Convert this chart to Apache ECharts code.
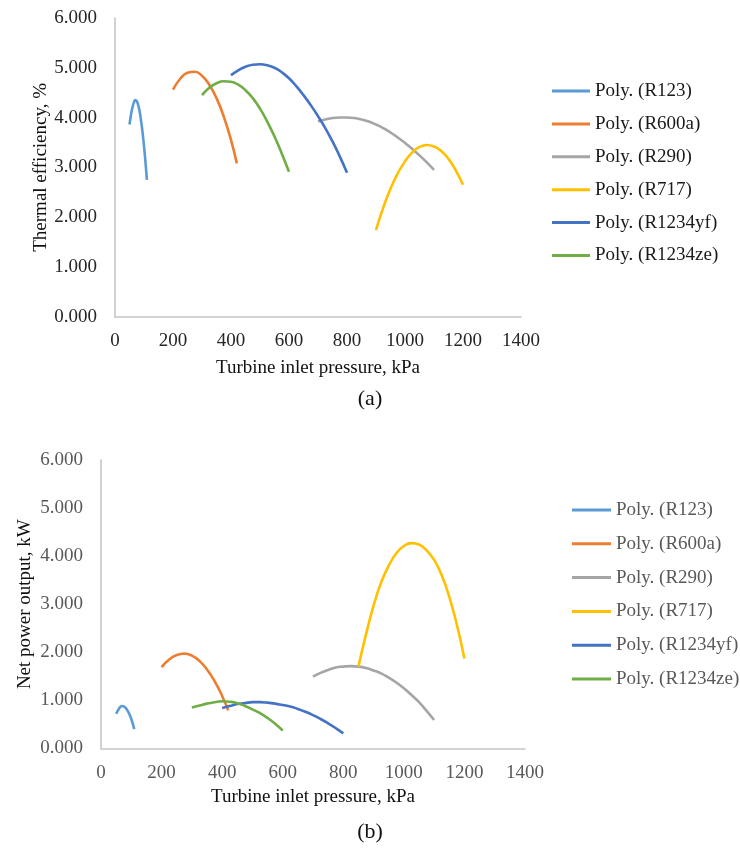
<!DOCTYPE html>
<html>
<head>
<meta charset="utf-8">
<script src="https://cdn.jsdelivr.net/npm/echarts@6/dist/echarts.min.js"></script>
<style>
html,body{margin:0;padding:0;background:#fff;}
#chart{width:740px;height:850px;}
</style>
</head>
<body>
<div id="chart"></div>
<script>
// Series names / legend labels
const seriesNames = ['Poly. (R123)', 'Poly. (R600a)', 'Poly. (R290)', 'Poly. (R717)', 'Poly. (R1234yf)', 'Poly. (R1234ze)'];
const xTicks = [0, 200, 400, 600, 800, 1000, 1200, 1400];
const yTicks = [0, 1, 2, 3, 4, 5, 6];

// (a) Thermal efficiency, %
const xR123_a = [50, 55, 60, 65, 70, 75, 80, 85, 90, 95, 100, 105, 110];
const yR123_a = [3.86, 4.05, 4.20, 4.30, 4.35, 4.33, 4.25, 4.12, 3.93, 3.70, 3.43, 3.11, 2.75];
const xR600a_a = [200, 225, 250, 275, 300, 325, 350, 375, 400, 420];
const yR600a_a = [4.56, 4.78, 4.90, 4.92, 4.84, 4.66, 4.39, 4.02, 3.55, 3.08];
const xR290_a = [700, 725, 750, 775, 800, 825, 850, 875, 900, 925, 950, 975, 1000, 1025, 1050, 1075, 1100];
const yR290_a = [3.92, 3.96, 3.99, 4.00, 4.00, 3.99, 3.96, 3.92, 3.86, 3.79, 3.70, 3.60, 3.49, 3.37, 3.24, 3.10, 2.95];
const xR717_a = [900, 925, 950, 975, 1000, 1025, 1050, 1075, 1100, 1125, 1150, 1175, 1200];
const yR717_a = [1.74, 2.19, 2.57, 2.88, 3.12, 3.30, 3.41, 3.45, 3.42, 3.33, 3.17, 2.94, 2.65];
const xR1234yf_a = [400, 425, 450, 475, 500, 525, 550, 575, 600, 625, 650, 675, 700, 725, 750, 775, 800];
const yR1234yf_a = [4.85, 4.95, 5.02, 5.06, 5.07, 5.05, 5.00, 4.91, 4.79, 4.63, 4.45, 4.25, 4.03, 3.79, 3.52, 3.22, 2.89];
const xR1234ze_a = [300, 325, 350, 375, 400, 425, 450, 475, 500, 525, 550, 575, 600];
const yR1234ze_a = [4.45, 4.60, 4.69, 4.73, 4.72, 4.66, 4.55, 4.39, 4.18, 3.92, 3.62, 3.28, 2.91];

// (b) Net power output, kW
const xR123_b = [50, 55, 60, 65, 70, 75, 80, 85, 90, 95, 100, 105, 110];
const yR123_b = [0.72, 0.78, 0.83, 0.87, 0.88, 0.87, 0.85, 0.81, 0.76, 0.69, 0.61, 0.51, 0.40];
const xR600a_b = [200, 225, 250, 275, 300, 325, 350, 375, 400, 420];
const yR600a_b = [1.69, 1.85, 1.94, 1.97, 1.93, 1.82, 1.64, 1.40, 1.09, 0.79];
const xR290_b = [700, 725, 750, 775, 800, 825, 850, 875, 900, 925, 950, 975, 1000, 1025, 1050, 1075, 1100];
const yR290_b = [1.49, 1.57, 1.63, 1.68, 1.70, 1.71, 1.70, 1.67, 1.62, 1.56, 1.47, 1.37, 1.25, 1.11, 0.96, 0.78, 0.59];
const xR717_b = [850, 875, 900, 925, 950, 975, 1000, 1025, 1050, 1075, 1100, 1125, 1150, 1175, 1200];
const yR717_b = [1.70, 2.37, 2.97, 3.45, 3.80, 4.06, 4.21, 4.27, 4.24, 4.12, 3.92, 3.60, 3.15, 2.57, 1.87];
const xR1234yf_b = [400, 425, 450, 475, 500, 525, 550, 575, 600, 625, 650, 675, 700, 725, 750, 775, 800];
const yR1234yf_b = [0.84, 0.88, 0.92, 0.94, 0.96, 0.96, 0.95, 0.93, 0.90, 0.87, 0.82, 0.76, 0.69, 0.61, 0.52, 0.42, 0.31];
const xR1234ze_b = [300, 325, 350, 375, 400, 425, 450, 475, 500, 525, 550, 575, 600];
const yR1234ze_b = [0.85, 0.89, 0.93, 0.96, 0.98, 0.97, 0.94, 0.88, 0.81, 0.73, 0.63, 0.51, 0.37];

const colors = ['#5B9BD5', '#ED7D31', '#A5A5A5', '#FFC000', '#4472C4', '#70AD47'];
const FONT = "'Liberation Serif', 'Times New Roman', serif";

const setA = [[xR123_a, yR123_a], [xR600a_a, yR600a_a], [xR290_a, yR290_a], [xR717_a, yR717_a], [xR1234yf_a, yR1234yf_a], [xR1234ze_a, yR1234ze_a]];
const setB = [[xR123_b, yR123_b], [xR600a_b, yR600a_b], [xR290_b, yR290_b], [xR717_b, yR717_b], [xR1234yf_b, yR1234yf_b], [xR1234ze_b, yR1234ze_b]];

function pairs(xs, ys) { return xs.map((x, i) => [x, ys[i]]); }

const series = [];
function addSeries(set, gi) {
  set.forEach((s, i) => series.push({
    name: seriesNames[i], type: 'line', xAxisIndex: gi, yAxisIndex: gi,
    data: pairs(s[0], s[1]), smooth: 0.5, symbol: 'none',
    lineStyle: { width: 2.6, color: colors[i] }, itemStyle: { color: colors[i] }
  }));
}
addSeries(setA, 0);
addSeries(setB, 1);

const axisLine = { show: true, lineStyle: { color: '#c6c6c6', width: 1.6 } };

function xAx(gi, labelColor, gap, margin) {
  return {
    type: 'value', gridIndex: gi, min: xTicks[0], max: xTicks[xTicks.length - 1], interval: 200,
    axisLine: axisLine, axisTick: { show: false }, splitLine: { show: false },
    axisLabel: { color: labelColor, fontFamily: FONT, fontSize: 19, margin: margin, formatter: v => String(v) },
    name: 'Turbine inlet pressure, kPa', nameLocation: 'middle', nameGap: gap, nameMoveOverlap: false,
    nameTextStyle: { color: '#111', fontFamily: FONT, fontSize: 19 }
  };
}
function yAx(gi, name, labelColor, gap) {
  return {
    type: 'value', gridIndex: gi, min: yTicks[0], max: yTicks[yTicks.length - 1], interval: 1,
    axisLine: axisLine, axisTick: { show: false }, splitLine: { show: false },
    axisLabel: { color: labelColor, fontFamily: FONT, fontSize: 19, margin: 18, formatter: v => v.toFixed(3) },
    name: name, nameLocation: 'middle', nameGap: gap, nameRotate: 90, nameMoveOverlap: false,
    nameTextStyle: { color: '#111', fontFamily: FONT, fontSize: 19 }
  };
}

const option = {
  animation: false,
  backgroundColor: '#fff',
  grid: [
    { left: 115, top: 18, width: 406, height: 298.7 },
    { left: 101, top: 460, width: 424, height: 288.3 }
  ],
  xAxis: [xAx(0, '#262626', 42, 15), xAx(1, '#595959', 39, 15)],
  yAxis: [yAx(0, 'Thermal efficiency, %', '#262626', 64), yAx(1, 'Net power output, kW', '#595959', 66)],
  legend: [
    { orient: 'vertical', left: 547, top: 76, itemWidth: 38, itemHeight: 3, itemGap: 12.9, icon: 'rect',
      data: seriesNames, selectedMode: false,
      textStyle: { color: '#1a1a1a', fontFamily: FONT, fontSize: 19, lineHeight: 20 } },
    { orient: 'vertical', left: 567, top: 495, itemWidth: 39, itemHeight: 3, itemGap: 13.8, icon: 'rect',
      data: seriesNames, selectedMode: false,
      textStyle: { color: '#595959', fontFamily: FONT, fontSize: 19, lineHeight: 20 } }
  ],
  graphic: [
    { type: 'text', left: 'center', top: 388, style: { text: '(a)', fill: '#111', font: "22px 'Liberation Serif', serif" } },
    { type: 'text', left: 'center', top: 821, style: { text: '(b)', fill: '#111', font: "22px 'Liberation Serif', serif" } }
  ],
  series: series
};

const chart = echarts.init(document.getElementById('chart'), null, { renderer: 'canvas' });
chart.setOption(option);
</script>
</body>
</html>
